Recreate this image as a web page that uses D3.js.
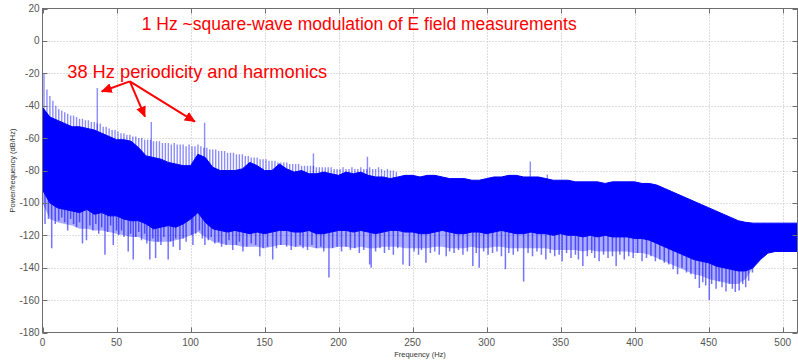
<!DOCTYPE html>
<html>
<head>
<meta charset="utf-8">
<script src="https://cdn.jsdelivr.net/npm/d3@7"></script>
<style>
  body { margin: 0; background: #fff; }
  text { font-family: "Liberation Sans", Arial, sans-serif; }
</style>
</head>
<body>
<script>
const width = 798;
const height = 361;

// frequency grid (Hz) for the dense band, every 5 Hz
const bandFreqs = d3.range(0, 515, 5);

// upper edge of the solid band (dB/Hz)
const bandTop = [
  -41, -47, -49, -51, -53, -53, -54, -55, -57, -59, -61, -61, -62, -66, -71, -72, -73, -75, -76, -77,
  -77, -70, -72, -78, -80, -80, -80, -79, -75, -77, -80, -80, -76, -79, -81, -80, -82, -82, -81, -82,
  -83, -81, -82, -81, -83, -84, -84, -85, -84, -83, -83, -84, -83, -83, -84, -85, -85, -85, -86, -86,
  -85, -84, -84, -83, -83, -84, -84, -84, -85, -86, -86, -86, -87, -87, -87, -87, -88, -87, -87, -87,
  -87, -88, -88, -89, -91, -93, -95, -97, -99, -101, -103, -105, -107, -109, -111, -112, -112.5, -112.5, -112.5, -112.5,
  -112.5, -112.5, -112.5
];

// lower edge of the solid band (dB/Hz)
const bandBottom = [
  -92, -100, -103, -104, -105, -106, -104, -107, -106, -108, -108, -110, -111, -111, -113, -116, -115, -114, -115, -113,
  -110, -106, -112, -116, -117, -118, -117, -118, -119, -118, -119, -118, -117, -117, -118, -118, -117, -119, -119, -118,
  -117, -117, -118, -117, -118, -119, -118, -117, -117, -118, -118, -119, -119, -118, -117, -118, -119, -119, -118, -118,
  -119, -118, -117, -118, -119, -119, -118, -119, -119, -120, -119, -120, -120, -121, -120, -121, -120, -121, -121, -121,
  -122, -122, -123, -125, -127, -129, -131, -133, -135, -136, -137, -139, -140, -141, -142, -142, -140, -135, -131, -130,
  -130, -130, -130
];

// how far the dense light spikes reach below the band (dB/Hz)
const fringeBottom = [
  -100, -110, -112, -113, -114, -116, -116, -117, -117, -118, -119, -120, -121, -121, -123, -124, -124, -124, -123, -122,
  -120, -118, -121, -124, -125, -126, -126, -127, -127, -127, -128, -127, -126, -126, -127, -127, -127, -128, -128, -128,
  -127, -127, -128, -127, -128, -128, -127, -127, -127, -128, -128, -128, -128, -127, -127, -128, -128, -128, -127, -128,
  -128, -127, -127, -128, -128, -128, -128, -128, -128, -129, -129, -129, -129, -130, -129, -130, -130, -130, -130, -130,
  -131, -131, -132, -134, -136, -138, -140, -142, -144, -145, -147, -148, -149, -150, -150, -147, -140, -133, -131, -130,
  -130, -130, -130
];

// odd harmonics of the 1 Hz square wave
const harmonicFreqs = d3.range(1, 241, 2);
const harmonicTips = [
  -20, -30, -34, -37, -40, -42, -43, -44, -45, -46, -46, -47, -48, -48, -49, -49, -50, -50, -51, -51,
  -53, -53, -54, -55, -55, -56, -57, -57, -58, -58, -59, -59, -60, -60, -61, -61, -61, -62, -62, -62,
  -63, -63, -63, -64, -63, -64, -64, -64, -65, -64, -65, -65, -64, -65, -66, -66, -67, -67, -67, -68,
  -68, -68, -69, -69, -69, -70, -70, -70, -71, -71, -72, -72, -72, -73, -73, -73, -74, -74, -74, -75,
  -75, -75, -75, -76, -76, -76, -76, -77, -77, -77, -77, -77, -78, -78, -78, -78, -78, -78, -79, -79,
  -79, -78, -79, -79, -78, -79, -79, -78, -79, -79, -78, -79, -79, -78, -79, -80, -79, -80, -80, -81
];

// isolated upward lines [Hz, dB/Hz]
const peaks = [[37, -29], [73.5, -50], [109.5, -50.5], [183, -69.5], [219.5, -71.5], [329.5, -74.5], [341, -82.5]];

// downward spikes [Hz, dB/Hz]
const dips = [
  [1.7, -113], [4, -110], [6.2, -128], [8.6, -113], [11, -111], [13, -109], [15, -112], [17, -117], [19, -110], [21, -113],
  [23, -115], [25, -112], [27, -125], [29.7, -123], [32, -114], [34, -117], [36, -113], [38, -119], [40, -115], [42.2, -132],
  [44, -118], [46, -114], [47.8, -126], [50, -117], [51.5, -120], [53.4, -117], [55, -121], [57.9, -130], [59.5, -119], [61.3, -135],
  [63, -121], [65, -118], [66.9, -123], [69, -119], [70.5, -125], [72.5, -135], [74.5, -122], [76.4, -134], [78, -124], [80, -126],
  [82, -121], [84.9, -135], [86.5, -124], [88.3, -127], [90, -122], [92.8, -129], [95, -122], [97, -124], [100.7, -120], [101.6, -126],
  [103.5, -119], [106, -117], [108, -122], [109.7, -126], [112, -123], [114, -121], [116.4, -125], [119, -124], [121, -127], [124, -126],
  [126, -123], [128.5, -129], [131, -126], [133, -124], [135.4, -130], [138, -127], [141, -125], [144, -126], [146.8, -133], [149, -128],
  [152, -127], [155.5, -135], [158, -128], [161, -126], [164.9, -127], [168, -129], [171, -127], [174, -126], [176, -128], [179, -129],
  [182, -126], [185, -128], [188, -127], [190, -130], [193.5, -146], [196, -128], [199, -127], [202, -130], [205, -127], [208, -129],
  [211, -128], [214, -131], [217, -129], [221, -138], [222, -140], [225, -130], [228, -128], [231, -131], [234, -129], [237, -132],
  [240, -128], [243.5, -138], [247.9, -139], [251, -130], [254, -132], [256, -129], [259, -137], [262, -131], [265, -130], [268, -132],
  [272.7, -133], [275, -130], [278, -131], [281, -129], [284, -132], [287, -130], [290.7, -139], [293, -131], [295, -140], [298, -130],
  [301, -132], [304, -131], [307, -130], [310, -133], [312.7, -141], [315, -131], [318, -132], [321, -130], [325, -148.5], [328, -131],
  [331, -133], [334, -130], [337, -132], [340, -135], [343, -131], [346, -133], [349, -132], [351, -136], [354, -131], [357, -134],
  [360, -132], [362, -135], [365, -139], [368, -133], [371, -131], [373, -134], [376, -136], [379, -132], [382, -134], [385, -133],
  [387.5, -139], [390, -132], [393, -135], [396, -133], [399, -134], [402, -131], [405, -136], [408, -134], [411, -133], [414, -136],
  [417, -135], [420, -137], [423, -138], [426, -141], [429, -144], [432, -140], [435, -143], [438, -144], [441, -147], [443.7, -152.6],
  [446, -149], [448, -151], [450.4, -160], [452, -150], [455, -153], [457, -148.5], [459, -152], [461.7, -154.7], [464, -150], [466, -153],
  [468, -155], [470.6, -154], [473, -150], [475, -152], [477, -148], [479.6, -143]
];

const xTicks = d3.range(0, 550, 50);
const yTicks = d3.range(-180, 40, 20);

const titleNote = "1 Hz ~square-wave modulation of E field measurements";
const peakNote = "38 Hz periodicity and harmonics";
// arrow start and targets [Hz, dB/Hz]
const arrowFrom = [59, -25];
const arrowTargets = [[40, -31.2], [69.2, -46.7], [102.9, -49.8]];

const x = d3.scaleLinear().domain([0, 510]).range([42.5, 797.5]);
const y = d3.scaleLinear().domain([-180, 20]).range([332.5, 8.5]);

// band edge at the nearest grid frequency, used to anchor spike lines inside the band
const gridIndex = f => Math.min(bandFreqs.length - 1, Math.round(f / 5));

const svg = d3.select("body").append("svg")
  .attr("width", width)
  .attr("height", height);

const defs = svg.append("defs");
defs.append("clipPath").attr("id", "plot")
  .append("rect")
  .attr("x", x(0)).attr("y", y(20))
  .attr("width", x(510) - x(0)).attr("height", y(-180) - y(20));

defs.append("marker")
  .attr("id", "head")
  .attr("markerUnits", "userSpaceOnUse")
  .attr("markerWidth", 11).attr("markerHeight", 10)
  .attr("refX", 10).attr("refY", 5)
  .attr("orient", "auto")
  .append("path")
  .attr("d", "M0,0 L11,5 L0,10 Z")
  .attr("fill", "#ff0000");

// grid
const grid = svg.append("g")
  .attr("stroke", "#bdbdbd")
  .attr("stroke-width", 1)
  .attr("stroke-dasharray", "1,2");
grid.selectAll("line.gx").data(xTicks.slice(1)).enter().append("line")
  .attr("x1", d => Math.round(x(d)) + 0.5).attr("x2", d => Math.round(x(d)) + 0.5)
  .attr("y1", y(20)).attr("y2", y(-180));
grid.selectAll("line.gy").data(yTicks.slice(1, -1)).enter().append("line")
  .attr("x1", x(0)).attr("x2", x(510))
  .attr("y1", d => Math.round(y(d)) + 0.5).attr("y2", d => Math.round(y(d)) + 0.5);

const plot = svg.append("g").attr("clip-path", "url(#plot)");

// harmonic lines above the band
plot.append("g")
  .attr("stroke", "#0000ff")
  .attr("stroke-opacity", 0.45)
  .attr("stroke-width", 1.4)
  .selectAll("line")
  .data(harmonicFreqs)
  .enter().append("line")
  .attr("x1", d => x(d)).attr("x2", d => x(d))
  .attr("y1", (d, i) => y(harmonicTips[i]))
  .attr("y2", d => y(bandTop[gridIndex(d)] - 4));

plot.append("g")
  .attr("stroke", "#0000ff")
  .attr("stroke-opacity", 0.45)
  .attr("stroke-width", 1.4)
  .selectAll("line")
  .data(peaks)
  .enter().append("line")
  .attr("x1", d => x(d[0])).attr("x2", d => x(d[0]))
  .attr("y1", d => y(d[1]))
  .attr("y2", d => y(bandTop[gridIndex(d[0])] - 4));

// light fringe of dense short spikes below the band
const fringe = d3.area()
  .x((d, i) => x(bandFreqs[i]))
  .y0((d, i) => y(fringeBottom[i]))
  .y1((d, i) => y(bandBottom[i]) - 2);

plot.append("path")
  .datum(bandFreqs)
  .attr("d", fringe)
  .attr("fill", "#0000ff")
  .attr("fill-opacity", 0.33);

// downward spikes
plot.append("g")
  .attr("stroke", "#0000ff")
  .attr("stroke-opacity", 0.55)
  .attr("stroke-width", 1.5)
  .selectAll("line")
  .data(dips)
  .enter().append("line")
  .attr("x1", d => x(d[0])).attr("x2", d => x(d[0]))
  .attr("y1", d => y(bandBottom[gridIndex(d[0])] + 4))
  .attr("y2", d => y(d[1]));

// dense band
const band = d3.area()
  .x((d, i) => x(bandFreqs[i]))
  .y0((d, i) => y(bandBottom[i]))
  .y1((d, i) => y(bandTop[i]));

plot.append("path")
  .datum(bandFreqs)
  .attr("d", band)
  .attr("fill", "#0000ff")
  .attr("stroke", "#0000ff")
  .attr("stroke-width", 1);

// axes box
const axisColor = "#6e6e6e";
svg.append("rect")
  .attr("x", x(0)).attr("y", y(20))
  .attr("width", x(510) - x(0)).attr("height", y(-180) - y(20))
  .attr("fill", "none")
  .attr("stroke", axisColor)
  .attr("stroke-width", 1);

const tickLen = 5;
const ticks = svg.append("g").attr("stroke", axisColor);
xTicks.forEach(t => {
  const px = Math.round(x(t)) + 0.5;
  ticks.append("line").attr("x1", px).attr("x2", px).attr("y1", y(-180)).attr("y2", y(-180) - tickLen);
  ticks.append("line").attr("x1", px).attr("x2", px).attr("y1", y(20)).attr("y2", y(20) + tickLen);
});
yTicks.forEach(t => {
  const py = Math.round(y(t)) + 0.5;
  ticks.append("line").attr("x1", x(0)).attr("x2", x(0) + tickLen).attr("y1", py).attr("y2", py);
  ticks.append("line").attr("x1", x(510)).attr("x2", x(510) - tickLen).attr("y1", py).attr("y2", py);
});

svg.append("g").selectAll("text")
  .data(xTicks).enter().append("text")
  .attr("x", d => x(d))
  .attr("y", y(-180) + 13)
  .attr("text-anchor", "middle")
  .attr("font-size", 10)
  .attr("fill", "#555")
  .text(d => d);

svg.append("g").selectAll("text")
  .data(yTicks).enter().append("text")
  .attr("x", x(0) - 3)
  .attr("y", d => y(d) + 3.5)
  .attr("text-anchor", "end")
  .attr("font-size", 10)
  .attr("fill", "#555")
  .text(d => d);

svg.append("text")
  .attr("x", (x(0) + x(510)) / 2)
  .attr("y", 357)
  .attr("text-anchor", "middle")
  .attr("font-size", 7.5)
  .attr("fill", "#333")
  .text("Frequency (Hz)");

svg.append("text")
  .attr("transform", `translate(15,${(y(20) + y(-180)) / 2}) rotate(-90)`)
  .attr("text-anchor", "middle")
  .attr("font-size", 7.5)
  .attr("fill", "#333")
  .text("Power/frequency (dB/Hz)");

// annotations
svg.append("text")
  .attr("x", x(67)).attr("y", y(6.8))
  .attr("font-size", 17.5)
  .attr("fill", "#ff0000")
  .attr("textLength", 435)
  .attr("lengthAdjust", "spacingAndGlyphs")
  .text(titleNote);

svg.append("text")
  .attr("x", x(16.7)).attr("y", y(-22.8))
  .attr("font-size", 19)
  .attr("fill", "#ff0000")
  .attr("textLength", 260)
  .attr("lengthAdjust", "spacingAndGlyphs")
  .text(peakNote);

svg.append("g").selectAll("line")
  .data(arrowTargets).enter().append("line")
  .attr("x1", x(arrowFrom[0])).attr("y1", y(arrowFrom[1]))
  .attr("x2", d => x(d[0])).attr("y2", d => y(d[1]))
  .attr("stroke", "#ff0000")
  .attr("stroke-width", 2)
  .attr("marker-end", "url(#head)");
</script>
</body>
</html>
